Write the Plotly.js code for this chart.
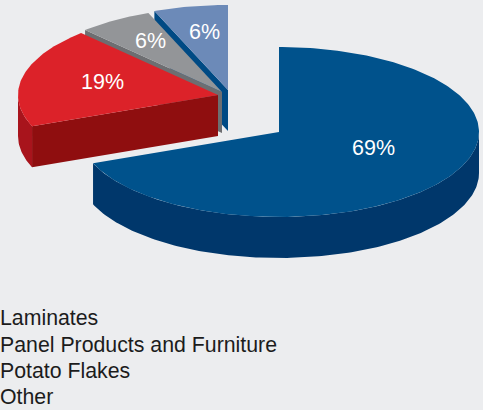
<!DOCTYPE html>
<html>
<head>
<meta charset="utf-8">
<script src="https://cdn.plot.ly/plotly-3.0.1.min.js"></script>
<style>html,body{margin:0;padding:0;background:#ecedef}#chart{width:483px;height:410px}</style>
</head>
<body>
<div id="chart"></div>
<script>
// Shares of end use, in drawing order round the pie (clockwise from 12 o'clock)
const categories = ['Laminates', 'Panel Products and Furniture', 'Potato Flakes', 'Other'];
const shares = [69, 19, 6, 6];

const topColors = ['#00528c', '#dc2229', '#939598', '#6c8ab8'];
const faceColors = ['#00376b', '#8f0e0f', '#6d6e71', '#004a84'];
const wallColors = ['#00376b', '#a8141c', '#6d6e71', '#004a84'];

// Ellipse of the tilted disc, extrusion depth, and each exploded slice's centre
const RX = 200, RY = 85, DEPTH = 41;
const centres = [[279, 132], [218, 95], [222, 92], [228, 90]];
const labelAt = [[373, 148], [102, 82], [150, 41], [204, 32]];

const point = (c, deg, dy = 0) => {
  const t = deg * Math.PI / 180;
  return [c[0] + RX * Math.sin(t), c[1] - RY * Math.cos(t) + dy];
};
const arc = (c, a, b, dy = 0) => {
  const pts = [], n = Math.max(2, Math.ceil(Math.abs(b - a)));
  for (let i = 0; i <= n; i++) pts.push(point(c, a + (b - a) * i / n, dy));
  return pts;
};
const poly = (pts, color, name) => ({
  type: 'scatter', mode: 'lines', fill: 'toself', fillcolor: color,
  line: {width: 0, color: color}, name, hoverinfo: 'skip',
  x: pts.map(p => p[0]), y: pts.map(p => p[1])
});

const total = shares.reduce((s, v) => s + v, 0);
let acc = 0;
const spans = shares.map(v => { const a = acc; acc += v / total * 360; return [a, acc]; });

const traces = [];
// Painter's order: the rear slice first, the large front slice last
for (const i of [3, 2, 1, 0]) {
  const c = centres[i], [a, b] = spans[i], name = categories[i];
  // cut face on the slice's leading straight edge, hanging below the top
  const end = i === 0 ? null : [c, point(c, a), point(c, a, DEPTH), [c[0], c[1] + DEPTH]];
  if (end) traces.push(poly(end, faceColors[i], name));
  // outer wall: only the part of the rim turned towards the viewer
  const lo = Math.max(a, 90), hi = Math.min(b, 270);
  if (lo < hi) traces.push(poly([...arc(c, lo, hi), ...arc(c, hi, lo, DEPTH)], wallColors[i], name));
  // top surface
  traces.push(poly([c, ...arc(c, a, b), c], topColors[i], name));
}

const annotations = shares.map((v, i) => ({
  x: labelAt[i][0], y: labelAt[i][1], xref: 'x', yref: 'y', showarrow: false,
  text: v + '%', font: {family: '"Liberation Sans", Arial, sans-serif', size: 21.5, color: '#ffffff'}
}));
// Plain text key below the pie
const legendY = [318, 344.5, 371, 397];
categories.forEach((name, i) => annotations.push({
  x: 0, y: legendY[i], xref: 'x', yref: 'y', xanchor: 'left', showarrow: false, xshift: -2,
  text: name, font: {family: '"Liberation Sans", Arial, sans-serif', size: 21.3, color: '#1c1c1c'}
}));

const hidden = {visible: false, fixedrange: true};
Plotly.newPlot('chart', traces, {
  width: 483, height: 410,
  margin: {l: 0, r: 0, t: 0, b: 0},
  paper_bgcolor: '#ecedef', plot_bgcolor: '#ecedef',
  showlegend: false, hovermode: false,
  xaxis: {...hidden, range: [0, 483]},
  yaxis: {...hidden, range: [410, 0]},
  annotations
}, {displayModeBar: false, staticPlot: true});
</script>
</body>
</html>
